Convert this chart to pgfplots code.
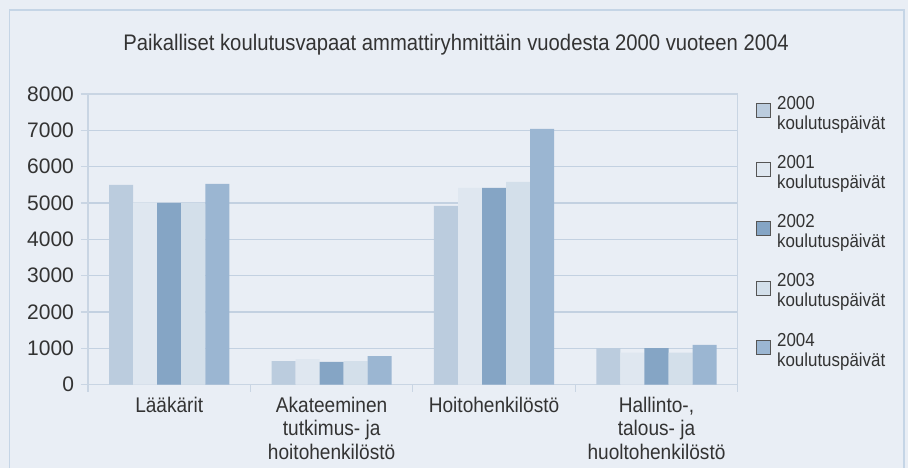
\documentclass[border=0pt]{standalone}
\usepackage{fontspec}
\setmainfont[FakeStretch=0.9]{Liberation Sans}
\newfontfamily\tickfont{Liberation Sans}
\usepackage{pgfplots}
\pgfplotsset{compat=1.18}

\definecolor{bgcol}{HTML}{E9EEF5}
\definecolor{framecol}{HTML}{C5D5E6}
\definecolor{gridcol}{HTML}{C3D1E1}
\definecolor{axcol}{HTML}{C9D5E3}
\definecolor{txtcol}{HTML}{333333}
\definecolor{legbd}{HTML}{555555}
\definecolor{cA}{HTML}{BBCCDE}
\definecolor{cB}{HTML}{DFE7F0}
\definecolor{cC}{HTML}{85A5C5}
\definecolor{cD}{HTML}{D3DFEA}
\definecolor{cE}{HTML}{9BB6D2}

\begin{document}
\begin{tikzpicture}
\useasboundingbox (0pt,0pt) rectangle (454pt,234pt);
\fill[bgcol] (0pt,0pt) rectangle (454pt,234pt);
\draw[framecol, line width=0.6pt] (4.75pt,0pt) -- (4.75pt,229pt) -- (452pt,229pt) -- (452pt,0pt);
\node[font=\fontsize{11.25}{13}\selectfont, text=txtcol] at (228pt,211.5pt)
  {Paikalliset koulutusvapaat ammattiryhmittäin vuodesta 2000 vuoteen 2004};

\begin{axis}[
    at={(44pt,41.65pt)}, anchor=south west,
    scale only axis,
    width=324.85pt, height=145.35pt,
    ybar=0pt, bar width=0.148,
    xmin=-0.5, xmax=3.5,
    ymin=0, ymax=8000,
    ytick={0,1000,...,8000},
    scaled y ticks=false,
    /pgf/number format/1000 sep={},
    /pgf/number format/assume math mode=true,
    xtick={-0.5,0.5,1.5,2.5,3.5},
    xticklabels={},
    extra x ticks={0,1,2,3},
    extra x tick labels={Lääkärit,{Akateeminen\\tutkimus- ja\\hoitohenkilöstö},Hoitohenkilöstö,{Hallinto-,\\talous- ja\\huoltohenkilöstö}},
    extra x tick style={major tick length=0pt, tick style={draw=none},
        tick label style={align=center, font=\fontsize{10.6}{11.85}\selectfont, text=txtcol, yshift=-2.5pt}},
    tick align=outside,
    tick pos=left,
    major tick length=3.5pt,
    tick style={axcol, line width=0.6pt},
    axis line style={axcol, line width=0.6pt},
    ymajorgrids,
    grid style={gridcol, line width=0.6pt},
    yticklabel style={font=\tickfont\fontsize{10.5}{12}\selectfont, text=txtcol},
    legend cell align=left,
    legend style={at={(1.0277,0.993)}, anchor=north west, draw=none, fill=none,
        inner sep=0pt, row sep=11.5pt,
        font=\fontsize{9.4}{10}\selectfont, text=txtcol,
        nodes={inner ysep=0pt, inner xsep=3pt},
        cells={align=left}},
    legend image code/.code={\draw[#1, draw=legbd, line width=0.5pt] (0pt,-1.6pt) rectangle (7pt,5.4pt);},
]
\addplot[fill=cA, draw=none] coordinates {(0,5500) (1,650) (2,4920) (3,1010)};
\addlegendentry{2000\\koulutuspäivät}
\addplot[fill=cB, draw=none] coordinates {(0,5020) (1,705) (2,5420) (3,880)};
\addlegendentry{2001\\koulutuspäivät}
\addplot[fill=cC, draw=none] coordinates {(0,5000) (1,625) (2,5420) (3,1010)};
\addlegendentry{2002\\koulutuspäivät}
\addplot[fill=cD, draw=none] coordinates {(0,5010) (1,650) (2,5580) (3,880)};
\addlegendentry{2003\\koulutuspäivät}
\addplot[fill=cE, draw=none] coordinates {(0,5530) (1,790) (2,7040) (3,1095)};
\addlegendentry{2004\\koulutuspäivät}
\end{axis}
\end{tikzpicture}
\end{document}
